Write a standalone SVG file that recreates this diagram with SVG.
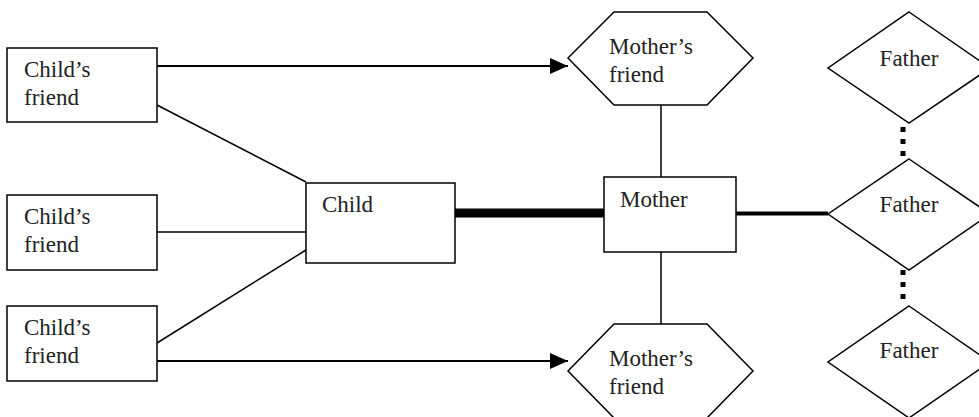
<svg xmlns="http://www.w3.org/2000/svg" width="979" height="417" viewBox="0 0 979 417">
<style>
  .shape { fill: #ffffff; stroke: #000000; stroke-width: 1.5; }
  .lbl { font-family: "Liberation Serif", "Times New Roman", serif; font-size: 23px; fill: #222222; }
  .mid { text-anchor: middle; }
  .thin { stroke: #000000; stroke-width: 1.5; fill: none; }
  .arrow { stroke: #000000; stroke-width: 2; fill: none; }
  .dots { stroke: #000000; stroke-width: 5; stroke-dasharray: 5 7; fill: none; }
</style>
<defs>
  <marker id="ah" markerWidth="9" markerHeight="8" refX="9" refY="4" orient="auto" markerUnits="strokeWidth">
    <path d="M0,0 L9,4 L0,8 Z" fill="#000000"/>
  </marker>
</defs>
<rect width="979" height="417" fill="#ffffff"/>
<g id="connectors">
  <line class="arrow" x1="157" y1="66" x2="568" y2="66" marker-end="url(#ah)"/>
  <line class="arrow" x1="157" y1="361" x2="568" y2="361" marker-end="url(#ah)"/>
  <line class="thin" x1="157" y1="105" x2="306" y2="182"/>
  <line class="thin" x1="157" y1="232" x2="306" y2="232"/>
  <line class="thin" x1="157" y1="343" x2="306" y2="250"/>
  <line stroke="#000000" stroke-width="9" x1="455" y1="213" x2="604" y2="213"/>
  <line stroke="#000000" stroke-width="4" x1="736" y1="213.5" x2="828" y2="213.5"/>
  <line class="thin" x1="661" y1="105" x2="661" y2="177"/>
  <line class="thin" x1="661" y1="252" x2="661" y2="324"/>
  <line class="dots" x1="903" y1="127" x2="903" y2="159"/>
  <line class="dots" x1="903" y1="270" x2="903" y2="302"/>
</g>
<g id="friend1">
  <rect class="shape" x="7" y="48" width="150" height="74"/>
  <text class="lbl" x="24" y="77">Child’s</text>
  <text class="lbl" x="24" y="105">friend</text>
</g>
<g id="friend2">
  <rect class="shape" x="7" y="195" width="150" height="75"/>
  <text class="lbl" x="24" y="224">Child’s</text>
  <text class="lbl" x="24" y="252">friend</text>
</g>
<g id="friend3">
  <rect class="shape" x="7" y="306" width="150" height="75"/>
  <text class="lbl" x="24" y="335">Child’s</text>
  <text class="lbl" x="24" y="363">friend</text>
</g>
<g id="child">
  <rect class="shape" x="306" y="183" width="149" height="80"/>
  <text class="lbl" x="322" y="212">Child</text>
</g>
<g id="mother">
  <rect class="shape" x="604" y="177" width="132" height="75"/>
  <text class="lbl" x="620" y="207">Mother</text>
</g>
<g id="mfriend-top">
  <polygon class="shape" points="568,58 614,12 707,12 753,58 707,105 614,105"/>
  <text class="lbl" x="609" y="54">Mother’s</text>
  <text class="lbl" x="609" y="82">friend</text>
</g>
<g id="mfriend-bottom">
  <polygon class="shape" points="568,371 614,324 707,324 753,371 707,418 614,418"/>
  <text class="lbl" x="609" y="366">Mother’s</text>
  <text class="lbl" x="609" y="394">friend</text>
</g>
<g id="father1">
  <polygon class="shape" points="909,12 990,68 909,123 828,68"/>
  <text class="lbl mid" x="909" y="66">Father</text>
</g>
<g id="father2">
  <polygon class="shape" points="909,159 990,214 909,270 828,214"/>
  <text class="lbl mid" x="909" y="212">Father</text>
</g>
<g id="father3">
  <polygon class="shape" points="909,306 990,362 909,418 828,362"/>
  <text class="lbl mid" x="909" y="358">Father</text>
</g>
</svg>
